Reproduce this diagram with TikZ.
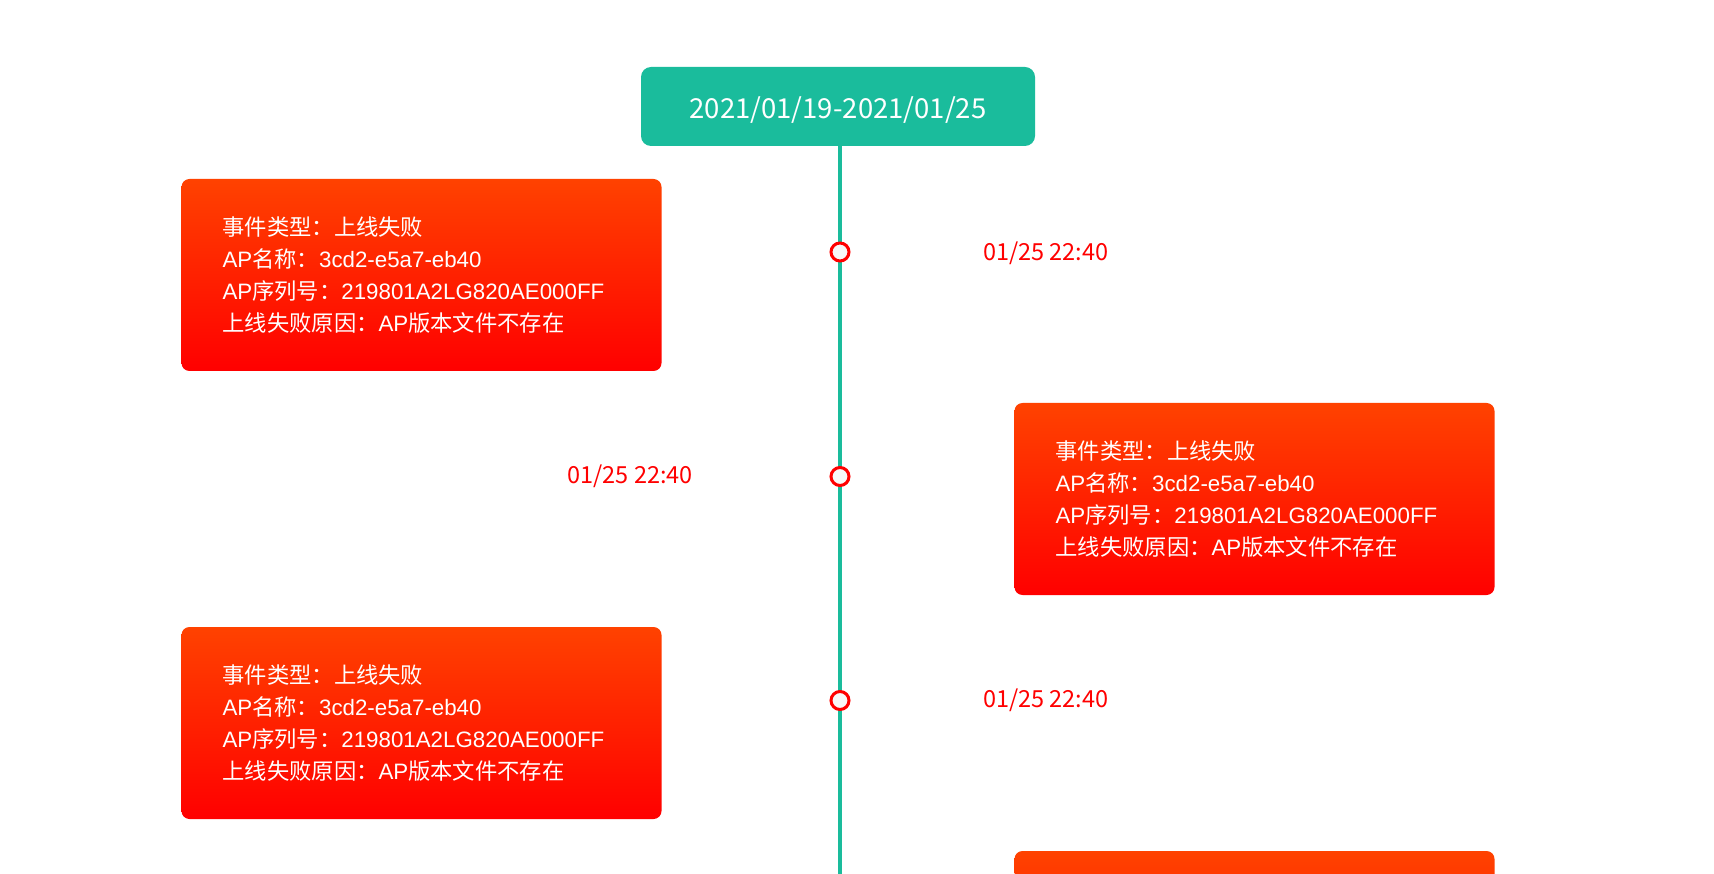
\documentclass[tikz,border=0pt]{standalone}
\usepackage{fontspec}
\setmainfont{Noto Sans CJK SC}
\newfontfamily\lat{Liberation Sans}
\definecolor{teal1}{RGB}{26,188,156}
\definecolor{cardtop}{RGB}{255,66,0}
\definecolor{cardbot}{RGB}{255,0,0}
\definecolor{dotfill}{RGB}{248,248,248}
\newcommand{\cardtext}{事件类型：上线失败\\{\lat AP}名称：{\lat 3cd2-e5a7-eb40}\\{\lat AP}序列号：{\lat 219801A2LG820AE000FF}\\上线失败原因：{\lat AP}版本文件不存在}
\tikzset{
  headbox/.style={fill=teal1, rounded corners=10pt, minimum width=394pt, minimum height=79pt, text=white, font=\fontsize{27.5}{32}\selectfont, inner sep=0pt},
  card/.style={top color=cardtop, bottom color=cardbot, rounded corners=8pt, minimum height=192pt, text width=398pt, inner xsep=41pt, inner ysep=0pt, align=left, text=white, font=\fontsize{22.3}{32}\selectfont},
  tldot/.style={circle, draw=cardbot, fill=dotfill, line width=3pt, minimum size=18pt, inner sep=0pt},
  tldate/.style={text=cardbot, font=\fontsize{23.5}{26}\selectfont, inner sep=0pt},
  tline/.style={draw=teal1, line width=3.5pt}
}
\begin{document}
\begin{tikzpicture}[x=1pt,y=-1pt]
\clip (0,0) rectangle (1714,874);
\fill[white] (0,0) rectangle (1714,874);
\node[headbox] (header) at (838,106.5) {\raisebox{-3.3pt}[\height][\depth]{2021/01/19-2021/01/25}};
\coordinate (end) at (840,874);
\draw[tline] (header.south -| end) -- (end);
\node[card] (card1) at (421.5,275) {\cardtext};
\node[card] (card2) at (1254.5,499) {\cardtext};
\node[card] (card3) at (421.5,723) {\cardtext};
\node[card] (card4) at (1254.5,947) {};
\node[tldot] (dot1) at (840,252) {};
\node[tldot] (dot2) at (840,476.5) {};
\node[tldot] (dot3) at (840,700.5) {};
\node[tldate, anchor=west] (date1) at (983,253) {01/25 22:40};
\node[tldate, anchor=east] (date2) at (693,476) {01/25 22:40};
\node[tldate, anchor=west] (date3) at (983,700.5) {01/25 22:40};
\end{tikzpicture}
\end{document}
